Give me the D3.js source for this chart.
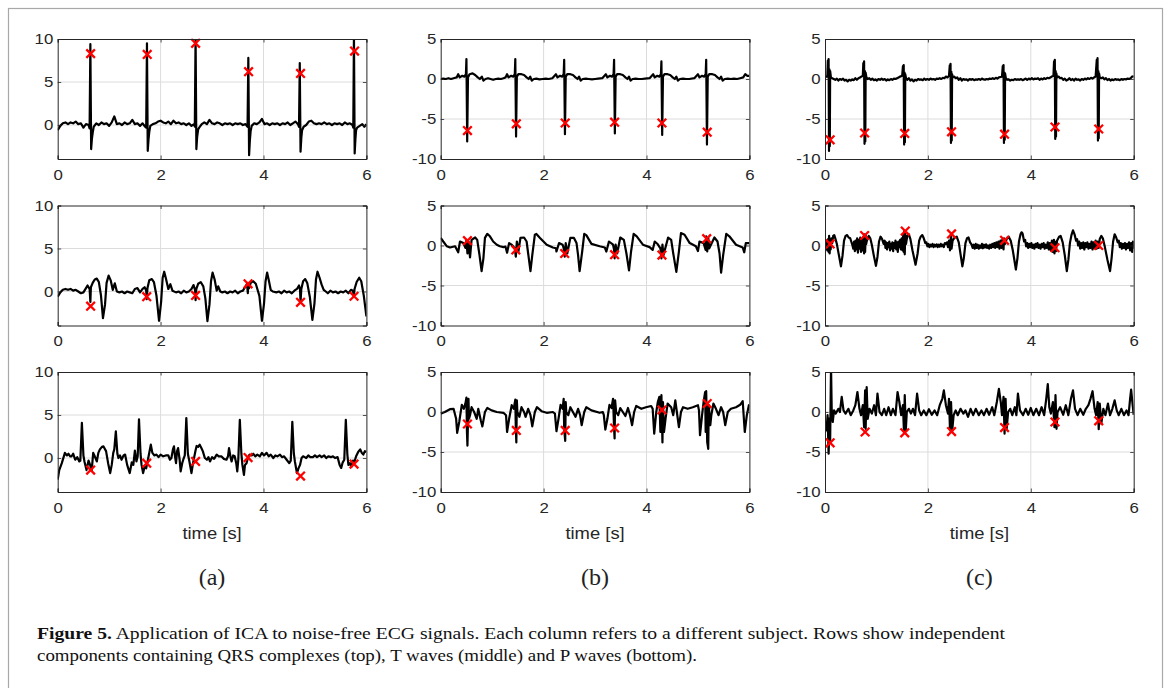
<!DOCTYPE html>
<html>
<head>
<meta charset="utf-8">
<script src="https://cdn.jsdelivr.net/npm/d3@7"></script>
<style>
  body { margin: 0; background: #fff; }
  svg { display: block; }
</style>
</head>
<body>
<svg id="fig" width="1171" height="688"></svg>
<script>
// ticks and labels
const xTicks = [0, 2, 4, 6]
const yTicksA = [0, 5, 10]
const yTicksBC = [-10, -5, 0, 5]
const colLabels = ['(a)', '(b)', '(c)']
const xLabel = 'time [s]'

// column (a): QRS / T / P components, [time s, value]
const sigA1 = [[0,-0.6],[0.05,-0.1],[0.1,0.2],[0.15,0.3],[0.2,0.1],[0.25,0.3],[0.3,0.2],[0.35,0.4],[0.4,0.1],[0.45,0.2],[0.5,-0.3],[0.55,0.1],[0.6,0],[0.62,-0.4],[0.635,9.4],[0.65,-2.8],[0.665,-1.6],[0.68,-0.9],[0.7,-0.2],[0.75,0.2],[0.8,0],[0.85,0.3],[0.9,0.1],[0.95,0.2],[1.0,-0.1],[1.05,0.3],[1.1,1.0],[1.15,0.1],[1.2,0.2],[1.25,0],[1.3,0.3],[1.35,0.1],[1.4,0.2],[1.45,0.6],[1.5,0.1],[1.55,0.2],[1.6,-0.1],[1.65,0.2],[1.7,-0.2],[1.72,-0.3],[1.735,9.5],[1.75,-3.0],[1.765,-1.7],[1.78,-0.8],[1.8,-0.1],[1.85,0.1],[1.9,0.2],[1.95,0.4],[2.0,0.5],[2.05,0.3],[2.1,0.2],[2.15,0.4],[2.2,0.1],[2.25,0.5],[2.3,0.2],[2.35,0.3],[2.4,0.1],[2.45,0.2],[2.5,0],[2.55,0.2],[2.6,-0.1],[2.65,0.1],[2.665,-0.2],[2.68,10.4],[2.695,-2.8],[2.71,-1.4],[2.73,-0.5],[2.75,-0.3],[2.8,0.1],[2.85,0.3],[2.9,0.1],[2.95,0.6],[3.0,0.2],[3.05,0.1],[3.1,0.3],[3.15,0.2],[3.2,0],[3.25,0.2],[3.3,0.1],[3.35,0.2],[3.4,0],[3.45,0.2],[3.5,0.1],[3.55,0.2],[3.6,0],[3.65,0.1],[3.69,-0.2],[3.705,7.8],[3.72,-3.5],[3.735,-1.8],[3.75,-0.7],[3.77,-0.1],[3.82,0.2],[3.87,0.1],[3.92,0.3],[3.97,0.7],[4.02,0.1],[4.07,0.2],[4.12,0],[4.17,0.2],[4.22,0.1],[4.27,0.2],[4.32,0],[4.37,0.2],[4.42,0.1],[4.47,0.3],[4.52,0],[4.57,0.2],[4.62,0.4],[4.67,0.1],[4.69,-0.2],[4.705,7.2],[4.72,-3.1],[4.735,-1.5],[4.75,-0.6],[4.78,-0.2],[4.83,0],[4.88,0.4],[4.93,0.5],[4.98,0.2],[5.03,0.1],[5.08,0.2],[5.13,0.1],[5.18,0.3],[5.23,0.1],[5.28,0.2],[5.33,0],[5.38,0.2],[5.43,0.1],[5.48,0.2],[5.53,0],[5.58,0.3],[5.63,0.1],[5.68,0.2],[5.73,0],[5.745,-0.3],[5.758,10.5],[5.772,-3.3],[5.787,-1.6],[5.8,-0.6],[5.82,-0.3],[5.87,-0.1],[5.92,0.1],[5.96,-0.2],[6.0,0.1]]
const mkA1 = [[0.64,8.3],[1.74,8.2],[2.68,9.5],[3.71,6.2],[4.72,6.0],[5.77,8.6]]

const sigA2 = [[0,-0.6],[0.05,-0.1],[0.1,0.2],[0.15,0.3],[0.2,0.2],[0.25,0.3],[0.3,0.1],[0.35,0.2],[0.4,0],[0.45,-0.2],[0.5,-0.1],[0.55,0.4],[0.58,0.7],[0.62,0.3],[0.635,-1.2],[0.645,0.5],[0.68,1.0],[0.72,1.4],[0.76,1.5],[0.8,1.1],[0.84,-0.4],[0.88,-3.1],[0.92,-1.5],[0.95,1.0],[0.99,1.85],[1.03,1.3],[1.07,0.2],[1.11,0.95],[1.15,0],[1.2,-0.1],[1.25,0],[1.3,-0.2],[1.35,0],[1.4,-0.1],[1.45,-0.2],[1.5,0.3],[1.55,0.4],[1.6,-0.1],[1.65,0.3],[1.69,0.5],[1.72,0.1],[1.73,-0.9],[1.745,0.4],[1.78,1.3],[1.83,1.45],[1.87,1.1],[1.92,-0.5],[1.97,-3.4],[2.01,-1.2],[2.04,1.6],[2.07,2.3],[2.1,1.6],[2.15,0.3],[2.19,0.85],[2.23,0.1],[2.3,-0.1],[2.35,0],[2.4,-0.2],[2.45,0.1],[2.5,-0.1],[2.55,0],[2.6,0.3],[2.64,0.75],[2.67,0.2],[2.68,-1.0],[2.695,0.3],[2.73,0.9],[2.78,1.1],[2.83,0.6],[2.87,-0.8],[2.91,-3.45],[2.95,-1.5],[2.98,1.2],[3.01,2.2],[3.05,1.4],[3.09,0.1],[3.12,0.6],[3.16,0],[3.2,-0.1],[3.25,0],[3.3,-0.2],[3.35,0],[3.4,-0.1],[3.45,0.1],[3.5,-0.2],[3.55,0],[3.6,0.1],[3.64,0.5],[3.68,0.9],[3.695,-0.2],[3.705,0.9],[3.72,0.4],[3.75,1.0],[3.8,1.2],[3.85,0.9],[3.92,-0.5],[3.97,-3.4],[4.01,-1.4],[4.04,1.2],[4.07,2.2],[4.1,1.4],[4.14,0.2],[4.18,0],[4.25,-0.1],[4.3,0],[4.35,-0.2],[4.4,0.1],[4.45,-0.1],[4.5,0],[4.55,-0.2],[4.6,0.1],[4.65,0.3],[4.69,0.7],[4.71,0.2],[4.72,-1.2],[4.735,0.3],[4.77,1.2],[4.81,1.45],[4.85,1.0],[4.9,-0.6],[4.95,-3.3],[4.99,-1.4],[5.02,1.4],[5.05,2.3],[5.09,1.6],[5.13,0.8],[5.17,0.2],[5.21,0],[5.25,-0.2],[5.3,0.1],[5.35,-0.1],[5.4,0],[5.45,-0.2],[5.5,0],[5.55,-0.1],[5.6,0.1],[5.65,-0.2],[5.7,0.2],[5.74,0.1],[5.755,-0.6],[5.77,0.3],[5.81,1.1],[5.86,1.6],[5.9,1.2],[5.95,-0.5],[6.0,-2.9]]
const mkA2 = [[0.64,-1.7],[1.73,-0.6],[2.68,-0.45],[3.7,0.9],[4.72,-1.25],[5.76,-0.55]]

const sigA3 = [[0,-2.5],[0.03,-1.4],[0.08,-0.6],[0.14,0.6],[0.18,0.3],[0.21,0.5],[0.24,0.2],[0.27,0.2],[0.3,0.5],[0.34,-0.2],[0.38,0.1],[0.42,-0.4],[0.44,-0.3],[0.47,4.1],[0.5,0.3],[0.52,-0.4],[0.56,-1.4],[0.6,-0.3],[0.63,-0.8],[0.66,-1.5],[0.69,0.6],[0.72,0.2],[0.76,-0.4],[0.79,0.6],[0.82,1.0],[0.86,1.3],[0.89,1.35],[0.94,0.8],[0.98,-0.6],[1.02,-1.75],[1.05,-0.8],[1.08,0.6],[1.1,1.0],[1.13,3.1],[1.16,0.5],[1.18,0],[1.21,0.3],[1.24,-0.2],[1.28,0.3],[1.31,0.4],[1.35,-0.8],[1.4,-1.75],[1.44,-0.5],[1.47,-0.8],[1.5,0.85],[1.53,-0.4],[1.555,0.2],[1.58,4.5],[1.61,0.5],[1.63,-0.8],[1.66,-1.75],[1.69,-1.0],[1.72,-1.2],[1.76,0],[1.81,1.55],[1.84,0.6],[1.88,0.3],[1.92,0.4],[1.96,0.1],[2.0,0.4],[2.05,0.2],[2.1,0.3],[2.15,0.3],[2.18,-0.2],[2.21,0],[2.24,1.0],[2.26,1.35],[2.28,0.2],[2.3,-0.6],[2.32,0.8],[2.34,1.15],[2.37,-0.2],[2.39,-1.55],[2.42,-0.6],[2.44,-0.2],[2.47,0.3],[2.5,4.65],[2.53,0.5],[2.56,-0.4],[2.6,-1.75],[2.63,-0.6],[2.65,0],[2.68,0.9],[2.7,1.4],[2.73,1.3],[2.76,1.55],[2.79,1.2],[2.82,0.8],[2.86,0],[2.9,-0.2],[2.93,0.1],[2.96,-0.4],[3.0,0.1],[3.04,-0.1],[3.09,0.4],[3.13,0.2],[3.18,0.2],[3.23,-0.1],[3.28,-0.2],[3.31,0.2],[3.33,1.15],[3.36,0.1],[3.38,-0.4],[3.41,0.3],[3.44,0.2],[3.47,-0.6],[3.49,-1.55],[3.51,-0.2],[3.54,4.45],[3.57,0.5],[3.59,-0.8],[3.62,-1.95],[3.64,-0.8],[3.67,-0.6],[3.7,0.1],[3.73,0.4],[3.77,0.3],[3.8,0.5],[3.84,0.2],[3.88,0.4],[3.93,0.2],[3.97,0.6],[4.01,0.3],[4.06,0.6],[4.1,0.2],[4.14,0.4],[4.19,0],[4.23,0.3],[4.27,0.2],[4.32,0.4],[4.36,0.1],[4.4,0.2],[4.45,-0.2],[4.5,-0.6],[4.53,-0.3],[4.56,4.2],[4.59,0.5],[4.61,-0.4],[4.65,-1.75],[4.68,-1.2],[4.71,-0.8],[4.74,0],[4.77,0.2],[4.8,0.1],[4.83,0],[4.87,0.3],[4.91,0.1],[4.96,0.1],[5.0,0.3],[5.04,0.1],[5.09,0.3],[5.13,0.1],[5.18,0.3],[5.22,0],[5.26,0.2],[5.31,0.1],[5.35,0.2],[5.39,0],[5.44,0.1],[5.48,-0.8],[5.51,-1.15],[5.54,-0.5],[5.57,-0.2],[5.6,4.45],[5.63,0.4],[5.65,-0.8],[5.68,-0.6],[5.71,-1.0],[5.74,-0.3],[5.76,-0.6],[5.8,0.2],[5.84,0.7],[5.88,1.0],[5.91,0.6],[5.94,0.4],[5.97,0.8],[6.0,0.7]]
const mkA3 = [[0.64,-1.4],[1.73,-0.6],[2.68,-0.4],[3.7,0.05],[4.72,-2.1],[5.76,-0.7]]

// column (b)
const sigB1 = [[0,0],[0.05,0.05],[0.1,0],[0.15,0.1],[0.2,0],[0.25,0.1],[0.31,0.2],[0.34,0.6],[0.37,0.2],[0.42,0.4],[0.46,0.3],[0.49,0.6],[0.5,2.5],[0.515,-7.8],[0.53,0.2],[0.56,0.6],[0.62,0.7],[0.67,0.5],[0.72,0.2],[0.76,0],[0.8,0.3],[0.83,-0.2],[0.87,0],[0.92,0.1],[0.97,0],[1.02,-0.1],[1.07,0],[1.12,0.05],[1.17,0],[1.22,0.1],[1.26,0.2],[1.29,0.6],[1.32,0.2],[1.37,0.4],[1.41,0.3],[1.44,0.6],[1.45,2.5],[1.465,-7.2],[1.48,0.3],[1.51,0.6],[1.57,0.6],[1.62,0.5],[1.67,0.2],[1.71,0],[1.74,0.3],[1.77,-0.2],[1.81,0],[1.86,0.05],[1.92,-0.05],[1.98,0],[2.04,0.05],[2.1,0],[2.17,0.1],[2.24,0.6],[2.27,0.2],[2.32,0.4],[2.36,0.3],[2.39,0.6],[2.4,2.4],[2.415,-6.9],[2.43,0.3],[2.46,0.6],[2.52,0.6],[2.57,0.5],[2.62,0.2],[2.66,0],[2.69,0.3],[2.72,-0.2],[2.76,0],[2.82,0.05],[2.88,0],[2.94,-0.05],[3.0,0],[3.06,0.05],[3.14,0.1],[3.21,0.6],[3.24,0.2],[3.29,0.4],[3.33,0.3],[3.36,0.6],[3.37,2.4],[3.385,-6.8],[3.4,0.3],[3.43,0.6],[3.49,0.6],[3.54,0.5],[3.59,0.2],[3.63,0],[3.66,0.3],[3.69,-0.2],[3.73,0],[3.79,0.05],[3.85,0],[3.91,0],[3.97,0.05],[4.06,0.1],[4.13,0.6],[4.16,0.2],[4.21,0.4],[4.25,0.3],[4.28,0.6],[4.29,2.2],[4.305,-7.0],[4.32,0.3],[4.35,0.6],[4.41,0.6],[4.46,0.5],[4.51,0.2],[4.55,0],[4.58,0.3],[4.61,-0.2],[4.65,0],[4.71,0.05],[4.77,0],[4.83,0],[4.93,0.1],[5.0,0.6],[5.03,0.2],[5.08,0.4],[5.12,0.3],[5.15,0.6],[5.16,2.4],[5.175,-8.2],[5.19,0.3],[5.22,0.6],[5.28,0.6],[5.33,0.5],[5.38,0.2],[5.42,0],[5.45,0.3],[5.48,-0.2],[5.52,0],[5.58,0.05],[5.64,0],[5.7,0.05],[5.76,0],[5.82,0.1],[5.88,0.2],[5.92,0.6],[5.96,0.4],[6.0,0.4]]
const mkB1 = [[0.52,-6.45],[1.47,-5.6],[2.42,-5.5],[3.38,-5.4],[4.3,-5.5],[5.18,-6.65]]

const sigB2 = [[0,0.95],[0.05,0.5],[0.12,-0.1],[0.18,-0.25],[0.28,-0.1],[0.34,-0.85],[0.375,0.5],[0.44,0.3],[0.48,-0.3],[0.5,0.7],[0.52,-1.0],[0.54,0.5],[0.57,-1.5],[0.6,0.7],[0.67,1.0],[0.71,0.7],[0.75,-1.0],[0.795,-3.2],[0.83,-1.6],[0.86,0.95],[0.905,1.45],[0.957,1.15],[1.02,0.5],[1.09,0.1],[1.15,-0.1],[1.22,-0.2],[1.26,-0.15],[1.29,-0.9],[1.33,0.3],[1.38,0.1],[1.44,-0.35],[1.46,-1.4],[1.48,0.5],[1.51,-0.75],[1.55,0.95],[1.62,1.0],[1.67,0.5],[1.7,-1.0],[1.745,-3.2],[1.78,-1.2],[1.83,1.35],[1.86,1.45],[1.93,0.95],[2.06,0.1],[2.18,-0.25],[2.24,-0.35],[2.25,-0.75],[2.3,0.3],[2.37,0.1],[2.39,-0.35],[2.41,-1.4],[2.43,0.3],[2.46,-1.0],[2.52,0.95],[2.59,0.95],[2.64,0.3],[2.67,-1.2],[2.7,-3.2],[2.75,-0.75],[2.79,1.45],[2.83,1.3],[2.93,0.2],[3.09,-0.1],[3.19,-0.25],[3.22,-0.75],[3.27,0.5],[3.35,0.1],[3.37,-0.55],[3.38,-1.6],[3.4,0.1],[3.43,-1.0],[3.49,1.0],[3.56,0.7],[3.61,-1.0],[3.66,-3.1],[3.7,-0.75],[3.75,1.45],[3.81,1.15],[3.93,0.1],[4.06,-0.2],[4.12,-0.55],[4.16,0.5],[4.22,0.15],[4.27,-0.35],[4.29,-1.6],[4.31,0.1],[4.33,-1.2],[4.42,1.0],[4.48,0.7],[4.52,-1.0],[4.58,-3.3],[4.63,-0.75],[4.67,1.55],[4.74,1.35],[4.84,0.3],[4.96,-0.1],[5.0,-0.7],[5.03,0.5],[5.11,0.3],[5.15,-0.55],[5.16,1.15],[5.18,-0.75],[5.2,0.95],[5.22,-0.35],[5.32,1.0],[5.38,0.5],[5.42,-1.0],[5.45,-3.4],[5.49,-1.2],[5.55,1.45],[5.61,1.15],[5.74,0.1],[5.87,-0.25],[5.9,-0.85],[5.93,0.3],[6.0,0.3]]
const mkB2 = [[0.52,0.6],[1.46,-0.55],[2.41,-1.0],[3.38,-1.15],[4.3,-1.2],[5.17,0.85]]

const sigB3 = [[0,-0.2],[0.08,0],[0.18,0.35],[0.25,0.4],[0.3,-0.85],[0.32,-2.6],[0.36,-1.25],[0.41,0.9],[0.45,0.4],[0.48,1.05],[0.5,1.8],[0.51,-2.5],[0.52,-4.2],[0.54,1.65],[0.55,-0.85],[0.57,-0.4],[0.6,0.6],[0.65,0],[0.7,-0.85],[0.73,0.4],[0.78,-1.05],[0.81,-1.8],[0.86,0],[0.905,0.5],[0.99,0.2],[1.09,0],[1.22,-0.1],[1.27,-0.4],[1.29,-2.5],[1.33,-0.85],[1.38,0.85],[1.42,0.4],[1.45,1.55],[1.46,-2.1],[1.47,-3.8],[1.48,1.45],[1.49,0],[1.53,-0.6],[1.57,0.6],[1.62,0],[1.65,-0.6],[1.7,0.4],[1.745,-0.4],[1.78,-1.8],[1.83,0],[1.87,0.6],[1.96,0.1],[2.06,-0.1],[2.18,0],[2.22,-0.2],[2.25,-2.4],[2.29,-0.85],[2.33,0.9],[2.37,0.4],[2.39,1.65],[2.4,-2.1],[2.42,-3.6],[2.43,1.25],[2.44,0],[2.48,-0.4],[2.52,0.6],[2.57,0],[2.62,-0.6],[2.67,0.4],[2.71,-0.4],[2.74,-1.65],[2.79,0],[2.83,0.6],[2.93,0.2],[3.09,-0.1],[3.15,0],[3.17,-0.35],[3.2,-2.2],[3.24,-0.85],[3.28,0.9],[3.32,0.5],[3.35,1.65],[3.37,-2.1],[3.38,-3.3],[3.39,1.45],[3.41,0],[3.45,-0.4],[3.49,0.5],[3.54,0],[3.59,-0.5],[3.64,0.5],[3.68,-0.4],[3.72,-1.65],[3.76,0],[3.8,0.75],[3.9,0.4],[3.99,0.6],[4.09,0.75],[4.12,0.4],[4.15,-2.7],[4.19,0],[4.22,1.25],[4.25,1.9],[4.27,-2.5],[4.29,2.1],[4.31,-3.8],[4.32,1.25],[4.34,-2.5],[4.37,-0.85],[4.41,1.05],[4.48,0.6],[4.52,-0.4],[4.56,1.45],[4.59,0],[4.63,-1.9],[4.67,0],[4.71,0.6],[4.8,0.4],[4.9,0.6],[5.0,0.85],[5.02,0.2],[5.04,-2.9],[5.08,-0.4],[5.11,1.25],[5.14,2.5],[5.15,-2.5],[5.16,2.6],[5.18,-3.75],[5.2,-4.6],[5.21,0.85],[5.24,-1.65],[5.26,-0.4],[5.3,1.05],[5.35,0.4],[5.4,-0.4],[5.45,0.6],[5.49,0],[5.53,-1.65],[5.58,0],[5.64,0.4],[5.74,0.6],[5.82,0.9],[5.87,1.35],[5.91,-2.5],[5.95,-0.4],[5.99,0.85],[6.0,0.9]]
const mkB3 = [[0.52,-1.5],[1.47,-2.3],[2.42,-2.3],[3.38,-2.0],[4.3,0.25],[5.18,1.05]]

// column (c)
const sigC1 = [[0,0.2],[0.02,0.3],[0.045,0.3],[0.055,2.3],[0.062,0.8],[0.07,2.5],[0.078,-9.0],[0.086,1.2],[0.093,-8.4],[0.1,1.0],[0.115,0.2],[0.14,0.1],[0.17,0],[0.2,-0.1],[0.23,0.05],[0.26,-0.2],[0.29,0],[0.32,-0.1],[0.35,0.05],[0.38,-0.2],[0.41,-0.1],[0.44,-0.3],[0.47,-0.1],[0.5,-0.2],[0.53,-0.05],[0.56,-0.15],[0.59,0.1],[0.62,-0.1],[0.65,0.1],[0.68,0.2],[0.71,0.3],[0.735,0.4],[0.745,2.0],[0.752,0.8],[0.76,2.2],[0.768,-8.1],[0.776,1.0],[0.783,-7.8],[0.79,0.8],[0.805,0.2],[0.83,0],[0.86,0.1],[0.89,-0.1],[0.92,0.05],[0.95,-0.15],[0.98,-0.05],[1.01,-0.2],[1.04,0],[1.07,-0.1],[1.1,0.05],[1.13,-0.1],[1.16,0],[1.19,-0.2],[1.22,-0.05],[1.25,-0.15],[1.28,0],[1.31,-0.1],[1.34,0.05],[1.37,0],[1.4,0.1],[1.43,0.2],[1.46,0.3],[1.5,0.4],[1.515,1.6],[1.522,0.6],[1.53,1.75],[1.538,-8.2],[1.546,0.8],[1.553,-7.9],[1.56,0.6],[1.575,0.1],[1.6,-0.1],[1.63,0.1],[1.66,-0.2],[1.69,-0.05],[1.72,-0.3],[1.75,-0.1],[1.78,-0.2],[1.81,0],[1.84,-0.1],[1.87,-0.05],[1.9,-0.15],[1.93,0.05],[1.96,-0.1],[1.99,0],[2.02,-0.1],[2.05,0.05],[2.08,-0.05],[2.11,0],[2.14,-0.1],[2.17,0.05],[2.2,0],[2.23,0.1],[2.26,0],[2.29,0.15],[2.32,0.1],[2.35,0.3],[2.38,0.2],[2.41,0.4],[2.425,1.7],[2.432,0.6],[2.44,1.9],[2.448,-8.0],[2.456,0.9],[2.463,-7.7],[2.47,0.6],[2.485,0.2],[2.51,0.3],[2.54,0.1],[2.57,0.2],[2.6,-0.1],[2.63,0.1],[2.66,-0.2],[2.69,0],[2.72,-0.1],[2.75,-0.05],[2.78,-0.2],[2.81,0],[2.84,-0.1],[2.87,0],[2.9,-0.15],[2.93,-0.05],[2.96,-0.1],[2.99,0],[3.02,-0.1],[3.05,0.05],[3.08,-0.05],[3.11,-0.1],[3.14,0],[3.17,-0.05],[3.2,0.05],[3.23,0],[3.26,0.1],[3.29,0],[3.32,0.15],[3.35,0.05],[3.38,0.2],[3.41,0.25],[3.44,0.3],[3.455,1.6],[3.462,0.5],[3.47,1.75],[3.478,-8.0],[3.486,0.8],[3.493,-7.6],[3.5,0.7],[3.515,0.1],[3.54,-0.1],[3.57,-0.05],[3.6,-0.2],[3.63,-0.1],[3.66,-0.15],[3.69,0],[3.72,-0.1],[3.75,-0.05],[3.78,-0.1],[3.81,0],[3.84,-0.15],[3.87,-0.05],[3.9,0.05],[3.93,-0.1],[3.96,0.05],[3.99,-0.05],[4.02,0.1],[4.05,-0.05],[4.08,0.05],[4.11,0],[4.14,0.1],[4.17,-0.1],[4.2,0.05],[4.23,-0.05],[4.26,0.1],[4.29,0],[4.32,0.15],[4.35,0.1],[4.38,0.2],[4.41,0.3],[4.44,0.4],[4.452,2.2],[4.46,0.7],[4.467,2.4],[4.475,-7.5],[4.483,1.0],[4.49,-7.2],[4.497,0.7],[4.51,0.2],[4.54,0.3],[4.57,0.1],[4.6,0.15],[4.63,-0.1],[4.66,0.05],[4.69,-0.2],[4.72,-0.1],[4.75,0.1],[4.78,-0.15],[4.81,0],[4.84,-0.2],[4.87,0.05],[4.9,-0.1],[4.93,-0.05],[4.96,-0.2],[4.99,0],[5.02,-0.1],[5.05,0.05],[5.08,-0.05],[5.11,0.1],[5.14,0],[5.17,0.15],[5.2,0.05],[5.23,0.2],[5.26,0.3],[5.282,2.4],[5.29,0.8],[5.297,2.6],[5.305,-7.7],[5.313,1.0],[5.32,-7.4],[5.327,0.7],[5.34,0.2],[5.37,0.1],[5.4,0.2],[5.43,-0.05],[5.46,0.1],[5.49,-0.15],[5.52,0],[5.55,-0.2],[5.58,-0.05],[5.61,-0.15],[5.64,0],[5.67,-0.1],[5.7,-0.05],[5.73,-0.15],[5.76,0],[5.79,-0.1],[5.82,0],[5.85,-0.05],[5.88,0.05],[5.91,0],[5.94,0.1],[5.97,0.3],[6.0,0.35]]
const mkC1 = [[0.1,-7.6],[0.77,-6.75],[1.55,-6.8],[2.46,-6.6],[3.49,-6.9],[4.47,-6.0],[5.32,-6.25]]

const sigC2 = [[0,0.1],[0.015,-0.4],[0.03,0.5],[0.045,-0.6],[0.06,0.8],[0.07,-0.8],[0.08,1.2],[0.09,-1.0],[0.1,0.6],[0.11,-0.5],[0.125,0.9],[0.14,0.3],[0.16,1.2],[0.18,1.3],[0.2,0.9],[0.23,0.2],[0.27,-1.2],[0.31,-2.6],[0.34,-1.3],[0.37,0.6],[0.4,1.2],[0.43,1.3],[0.46,1.0],[0.49,0.9],[0.51,0.5],[0.53,0.1],[0.55,-0.4],[0.565,0.5],[0.58,-0.7],[0.595,0.6],[0.61,-0.5],[0.625,0.9],[0.64,-0.9],[0.655,0.7],[0.67,-0.4],[0.685,1.0],[0.7,-0.8],[0.715,0.8],[0.73,-0.6],[0.745,1.1],[0.76,-1.0],[0.77,1.4],[0.78,-0.8],[0.79,1.3],[0.8,0.2],[0.82,0.8],[0.85,1.2],[0.88,0.9],[0.91,0.1],[0.95,-1.3],[0.99,-2.55],[1.02,-1.4],[1.05,0.5],[1.08,1.1],[1.11,0.8],[1.14,0.2],[1.16,0.6],[1.175,-0.3],[1.19,0.4],[1.205,-0.5],[1.22,0.3],[1.235,-0.2],[1.25,0.5],[1.265,-0.6],[1.28,0.2],[1.295,-0.4],[1.31,0.4],[1.325,-0.7],[1.34,0.3],[1.355,-0.3],[1.37,0.6],[1.385,-0.5],[1.4,0.4],[1.415,-0.8],[1.43,0.5],[1.445,-0.2],[1.46,0.7],[1.475,-0.5],[1.49,0.9],[1.505,-0.6],[1.52,1.3],[1.53,-0.8],[1.54,1.8],[1.55,-1.1],[1.56,1.5],[1.575,0.2],[1.6,1.2],[1.63,1.4],[1.66,0.8],[1.7,-0.6],[1.76,-2.4],[1.8,-1.0],[1.83,0.6],[1.86,1.1],[1.89,1.3],[1.92,0.9],[1.95,0.3],[1.97,0.4],[1.99,-0.1],[2.01,0.2],[2.03,-0.2],[2.05,0.1],[2.07,-0.1],[2.09,0.2],[2.11,-0.2],[2.13,0.1],[2.15,-0.1],[2.17,0.15],[2.19,-0.2],[2.21,0.1],[2.23,-0.15],[2.25,0.2],[2.27,-0.1],[2.29,0.1],[2.31,-0.2],[2.33,0.3],[2.35,0.2],[2.37,0.4],[2.39,-0.2],[2.41,0.6],[2.43,-0.6],[2.45,1.5],[2.46,-0.4],[2.48,0.6],[2.52,1.0],[2.56,1.1],[2.6,0.4],[2.63,-0.9],[2.67,-2.6],[2.7,-1.5],[2.73,0.3],[2.76,0.9],[2.79,1.0],[2.82,0.4],[2.85,0.1],[2.87,-0.3],[2.89,0.1],[2.91,-0.4],[2.93,0.2],[2.95,-0.3],[2.97,0.1],[2.99,-0.4],[3.01,0],[3.03,-0.3],[3.05,0.2],[3.07,-0.35],[3.09,0.1],[3.11,-0.25],[3.13,0.15],[3.15,-0.3],[3.17,0],[3.19,-0.4],[3.21,0.1],[3.23,-0.3],[3.25,0.2],[3.27,-0.2],[3.29,0.3],[3.31,-0.3],[3.33,0.4],[3.35,-0.2],[3.37,0.5],[3.39,-0.4],[3.41,0.6],[3.43,-0.3],[3.45,0.8],[3.47,-0.5],[3.48,0.9],[3.5,0.2],[3.53,0.8],[3.57,1.1],[3.61,0.6],[3.65,-0.6],[3.71,-3.0],[3.74,-1.6],[3.77,0.5],[3.8,1.4],[3.82,1.65],[3.84,1.5],[3.87,0.5],[3.89,0.7],[3.91,-0.1],[3.93,0.3],[3.95,-0.3],[3.97,0.2],[3.99,-0.2],[4.01,0.3],[4.03,-0.3],[4.05,0.1],[4.07,-0.4],[4.09,0.2],[4.11,-0.2],[4.13,0.3],[4.15,-0.3],[4.17,0.1],[4.19,-0.4],[4.21,0.2],[4.23,-0.2],[4.25,0.3],[4.27,-0.4],[4.29,0.1],[4.31,-0.3],[4.33,0.4],[4.35,-0.5],[4.37,0.3],[4.39,-0.6],[4.41,0.6],[4.43,-0.8],[4.45,0.7],[4.46,-1.0],[4.47,0.5],[4.49,-0.7],[4.51,0.6],[4.55,1.1],[4.58,1.2],[4.62,0.4],[4.66,-1.2],[4.7,-3.2],[4.73,-1.8],[4.76,0.3],[4.79,1.3],[4.82,1.9],[4.85,1.4],[4.88,0.6],[4.9,0.8],[4.92,0],[4.94,0.5],[4.96,-0.4],[4.98,0.3],[5.0,-0.3],[5.02,0.4],[5.04,-0.5],[5.06,0.3],[5.08,-0.2],[5.1,0.4],[5.12,-0.4],[5.14,0.2],[5.16,-0.3],[5.18,0.5],[5.2,-0.5],[5.22,0.4],[5.24,-0.3],[5.26,0.6],[5.28,-0.4],[5.3,0.5],[5.32,-0.3],[5.34,0.8],[5.37,1.2],[5.4,0.9],[5.44,-0.2],[5.49,-1.8],[5.54,-3.2],[5.57,-1.6],[5.6,0.5],[5.63,1.4],[5.66,1.0],[5.69,0.4],[5.71,0.6],[5.73,-0.2],[5.75,0.3],[5.77,-0.4],[5.79,0.2],[5.81,-0.3],[5.83,0.3],[5.85,-0.5],[5.87,0.2],[5.89,-0.3],[5.91,0.4],[5.93,-0.6],[5.95,0.3],[5.97,-0.8],[5.985,0.5],[6.0,-0.4]]
const mkC2 = [[0.1,0.2],[0.77,1.25],[1.56,1.8],[2.46,1.45],[3.49,0.65],[4.47,-0.28],[5.32,0.0]]

const sigC3 = [[0,-1.45],[0.03,-2.3],[0.05,-0.4],[0.07,-5.2],[0.09,-0.8],[0.1,-3.75],[0.117,5.8],[0.13,0.4],[0.15,-1.25],[0.176,0.2],[0.21,-0.2],[0.26,0.4],[0.29,0],[0.325,1.9],[0.36,0.2],[0.4,-0.2],[0.455,0.4],[0.5,-0.4],[0.55,0.2],[0.59,0.85],[0.63,2.5],[0.67,0.4],[0.7,-0.4],[0.735,0.85],[0.76,-1.9],[0.78,2.7],[0.79,-2.1],[0.81,3.1],[0.83,-0.85],[0.865,0.4],[0.91,-0.2],[0.955,0.85],[0.99,-0.4],[1.02,2.3],[1.06,0],[1.105,-0.4],[1.15,0.4],[1.19,-0.4],[1.235,0.6],[1.28,-0.4],[1.32,0.4],[1.37,-0.4],[1.41,2.5],[1.445,1.25],[1.48,-0.4],[1.515,0.85],[1.535,-2.5],[1.55,2.1],[1.57,-2.3],[1.59,0],[1.63,0.4],[1.67,-0.2],[1.71,0.4],[1.75,-0.4],[1.79,2.3],[1.83,0.2],[1.87,-0.4],[1.92,0.2],[1.97,-0.4],[2.02,0.35],[2.075,-0.35],[2.13,0.2],[2.18,-0.4],[2.23,0.85],[2.28,1.65],[2.31,2.7],[2.35,0.85],[2.39,-0.2],[2.41,1.65],[2.43,-2.3],[2.45,1.25],[2.47,-2.5],[2.5,-0.4],[2.54,0.2],[2.58,-0.4],[2.635,0.4],[2.69,-0.2],[2.73,0.2],[2.78,-0.6],[2.83,0.4],[2.88,-0.4],[2.93,0.4],[2.99,-0.4],[3.04,0.2],[3.09,-0.4],[3.14,0.4],[3.19,-0.35],[3.25,0.6],[3.29,-0.4],[3.34,1.25],[3.38,2.9],[3.42,1.05],[3.44,-0.4],[3.47,1.9],[3.49,-2.7],[3.51,1.65],[3.53,-2.1],[3.56,0],[3.6,0.4],[3.64,-0.4],[3.69,0.6],[3.72,-0.4],[3.75,2.3],[3.79,0.2],[3.85,-0.4],[3.9,0.4],[3.95,-0.35],[4.0,0.5],[4.05,-0.4],[4.105,0.4],[4.16,-0.4],[4.21,0.6],[4.26,-0.4],[4.3,1.65],[4.33,3.5],[4.36,0.6],[4.39,-0.2],[4.43,1.25],[4.46,-1.9],[4.48,2.1],[4.5,-2.1],[4.52,0],[4.57,0.6],[4.63,-0.35],[4.68,0.85],[4.73,-0.4],[4.78,1.65],[4.82,2.7],[4.86,0.4],[4.91,-0.4],[4.96,0.4],[5.02,-0.35],[5.07,0.4],[5.12,0.85],[5.16,1.65],[5.2,2.6],[5.24,0.4],[5.27,-0.4],[5.3,1.25],[5.32,-2.15],[5.34,1.05],[5.37,-1.45],[5.41,0.4],[5.45,-0.4],[5.5,1.05],[5.54,-0.4],[5.585,0.4],[5.63,1.45],[5.67,0.2],[5.71,-0.4],[5.76,0.4],[5.81,-0.4],[5.86,0.2],[5.9,-0.4],[5.93,1.65],[5.95,2.8],[5.98,0.85],[6.0,-0.35]]
const mkC3 = [[0.1,-3.85],[0.78,-2.5],[1.55,-2.6],[2.46,-2.45],[3.49,-1.95],[4.47,-1.25],[5.32,-1.1]]

const yDomA = [-3.95, 10]
const yDomBC = [-10, 5]

const panels = [
  { sig: sigA1, mk: mkA1, col: 0, row: 0 },
  { sig: sigA2, mk: mkA2, col: 0, row: 1 },
  { sig: sigA3, mk: mkA3, col: 0, row: 2 },
  { sig: sigB1, mk: mkB1, col: 1, row: 0 },
  { sig: sigB2, mk: mkB2, col: 1, row: 1 },
  { sig: sigB3, mk: mkB3, col: 1, row: 2 },
  { sig: sigC1, mk: mkC1, col: 2, row: 0 },
  { sig: sigC2, mk: mkC2, col: 2, row: 1 },
  { sig: sigC3, mk: mkC3, col: 2, row: 2 },
]

const svg = d3.select('#fig')
const colX = [57.7, 440.7, 825]
const rowY = [39, 205.5, 372]
const pw = 308.7, ph = 120
const axisColor = '#262626'
const gridColor = '#dcdcdc'
const tickFont = '"Liberation Sans", Arial, Helvetica, sans-serif'

// outer frame of the figure
svg.append('rect')
  .attr('x', 8.5).attr('y', 8.5)
  .attr('width', 1154).attr('height', 700)
  .attr('fill', 'none')
  .attr('stroke', '#a8a8a8')
  .attr('stroke-width', 1.2)

const defs = svg.append('defs')

panels.forEach((p, i) => {
  const x0 = colX[p.col], y0 = rowY[p.row]
  const yDom = p.col === 0 ? yDomA : yDomBC
  const yTicks = p.col === 0 ? yTicksA : yTicksBC
  const x = d3.scaleLinear().domain([0, 6]).range([x0, x0 + pw])
  const y = d3.scaleLinear().domain(yDom).range([y0 + ph, y0])
  const g = svg.append('g')

  defs.append('clipPath').attr('id', 'clip' + i)
    .append('rect').attr('x', x0).attr('y', y0).attr('width', pw).attr('height', ph)

  // grid
  g.selectAll('.gx')
    .data(xTicks.filter(t => t > 0 && t < 6))
    .join('line')
    .attr('x1', d => x(d)).attr('x2', d => x(d))
    .attr('y1', y0).attr('y2', y0 + ph)
    .attr('stroke', gridColor).attr('stroke-width', 1)
  g.selectAll('.gy')
    .data(yTicks.filter(v => v > yDom[0] && v < yDom[1]))
    .join('line')
    .attr('x1', x0).attr('x2', x0 + pw)
    .attr('y1', d => y(d)).attr('y2', d => y(d))
    .attr('stroke', gridColor).attr('stroke-width', 1)

  // signal
  g.append('path')
    .datum(p.sig)
    .attr('clip-path', `url(#clip${i})`)
    .attr('fill', 'none')
    .attr('stroke', '#000')
    .attr('stroke-width', 2.2)
    .attr('stroke-linejoin', 'round')
    .attr('d', d3.line().x(d => x(d[0])).y(d => y(d[1])))

  // detected points
  g.selectAll('.mk')
    .data(p.mk)
    .join('path')
    .attr('transform', d => `translate(${x(d[0])},${y(d[1])})`)
    .attr('d', 'M-4.3,-4.3L4.3,4.3M-4.3,4.3L4.3,-4.3')
    .attr('stroke', '#ff0000')
    .attr('stroke-width', 2.3)

  // axes
  const fmt = d3.format('d')
  const bottom = g.append('g')
    .attr('transform', `translate(0,${y0 + ph})`)
    .call(d3.axisBottom(x).tickValues(xTicks).tickFormat(fmt).tickSize(-3.5).tickPadding(10))
  const left = g.append('g')
    .attr('transform', `translate(${x0},0)`)
    .call(d3.axisLeft(y).tickValues(yTicks).tickFormat(fmt).tickSize(-3.5).tickPadding(4))
  g.append('g')
    .attr('transform', `translate(0,${y0})`)
    .call(d3.axisTop(x).tickValues(xTicks).tickSize(-3.5).tickFormat(''))
  g.append('g')
    .attr('transform', `translate(${x0 + pw},0)`)
    .call(d3.axisRight(y).tickValues(yTicks).tickSize(-3.5).tickFormat(''))

  g.selectAll('.domain').attr('stroke', axisColor).attr('stroke-width', 1)
  g.selectAll('.tick line').attr('stroke', axisColor).attr('stroke-width', 0.8)
  ;[bottom, left].forEach(a => a.selectAll('text')
    .attr('fill', axisColor)
    .style('font-family', tickFont)
    .style('font-size', '15px')
    .attr('transform', 'scale(1.12,1)'))
  // MATLAB writes the minus as a plain hyphen
  left.selectAll('text').text(d => String(d))

  if (p.row === 2) {
    g.append('text')
      .attr('x', 0).attr('y', 0)
      .attr('transform', `translate(${x0 + pw / 2},538.5) scale(1.15,1)`)
      .attr('text-anchor', 'middle')
      .attr('fill', axisColor)
      .style('font-family', tickFont)
      .style('font-size', '16px')
      .text(xLabel)
    g.append('text')
      .attr('x', x0 + pw / 2).attr('y', 585)
      .attr('text-anchor', 'middle')
      .attr('fill', '#222')
      .style('font-family', '"Liberation Serif", "DejaVu Serif", serif')
      .style('font-size', '24px')
      .text(colLabels[p.col])
  }
})

// caption
const cap = svg.append('g')
  .style('font-family', '"Liberation Serif", "Times New Roman", serif')
  .style('font-size', '17px')
  .attr('fill', '#111')
const line1 = cap.append('text').attr('x', 37).attr('y', 639)
  .attr('textLength', 968).attr('lengthAdjust', 'spacingAndGlyphs')
line1.append('tspan').attr('font-weight', 'bold').text('Figure 5.')
line1.append('tspan').text(' Application of ICA to noise-free ECG signals. Each column refers to a different subject. Rows show independent')
cap.append('text').attr('x', 37).attr('y', 661)
  .attr('textLength', 660).attr('lengthAdjust', 'spacingAndGlyphs')
  .text('components containing QRS complexes (top), T waves (middle) and P waves (bottom).')
</script>
</body>
</html>
